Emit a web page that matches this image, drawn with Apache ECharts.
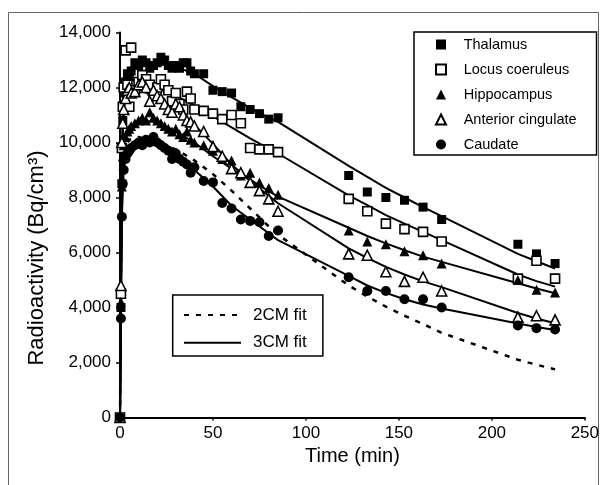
<!DOCTYPE html>
<html>
<head>
<meta charset="utf-8">
<script src="https://cdn.jsdelivr.net/npm/echarts@6/dist/echarts.min.js"></script>
<style>
  html, body { margin: 0; padding: 0; background: #fff; }
  #chart { width: 602px; height: 485px; }
</style>
</head>
<body>
<div id="chart"></div>
<script>
// Sampling times (min) of the measured frames
const times = [0, 0.5, 1, 1.5, 2, 3, 4, 5, 6, 8, 10, 12, 14, 16, 18, 20, 22, 24, 26, 28, 30, 32, 34, 36, 38, 40,
  45, 50, 55, 60, 65, 70, 75, 80, 85, 123, 133, 143, 153, 163, 173, 214, 224, 234];

// Measured radioactivity (Bq/cm3) per region
const thalamus = [0, 4000, 8500, 10800, 11800, 12200, 12500, 12400, 12600, 12900, 12800, 13000, 12900, 12700, 12800, 12900, 13100, 13000, 12800, 12700, 12800, 12700, 12900, 12900, 12600, 12500,
  12500, 11900, 11850, 11800, 11300, 11200, 11050, 10850, 10900, 8800, 8200, 8000, 7900, 7650, 7200, 6300, 5950, 5600];
const locusCoeruleus = [0, 4500, 9800, 11300, 12000, 13350, 12100, 11300, 13450, 11900, 12200, 12450, 12300, 12100, 11700, 12000, 12300, 12100, 11900, 11500, 11800, 11400, 11200, 11850, 11600, 11200,
  11150, 11050, 10850, 11000, 10700, 9800, 9750, 9750, 9650, 7950, 7500, 7050, 6850, 6750, 6400, 5050, 5700, 5050];
const hippocampus = [0, 4200, 8400, 9500, 9900, 10200, 10400, 10500, 10600, 10700, 10800, 10900, 10800, 11100, 10900, 10800, 10700, 10600, 10500, 10400, 10500, 10300, 10200, 10400, 10100, 10000,
  9900, 9700, 9400, 9350, 8800, 8900, 8550, 8350, 8100, 6800, 6400, 6300, 6050, 5900, 5600, 5000, 4650, 4550];
const anteriorCingulate = [0, 4800, 10000, 10700, 11200, 11600, 11900, 12000, 11800, 11850, 12100, 12200, 12000, 11500, 11900, 11700, 11600, 11400, 11200, 11100, 11400, 11300, 11000, 10800, 10750, 10600,
  10400, 9850, 9500, 9050, 8900, 8550, 8250, 7950, 7500, 5950, 5900, 5300, 4950, 5100, 4600, 3650, 3700, 3550];
const caudate = [0, 3600, 7300, 8500, 9000, 9400, 9600, 9700, 9800, 9900, 10000, 9900, 10100, 10000, 10200, 10000, 9900, 9800, 9700, 9400, 9600, 9400, 9300, 9200, 8900, 9100,
  8600, 8550, 7800, 7600, 7200, 7150, 7100, 6600, 6800, 5100, 4600, 4600, 4300, 4300, 4000, 3350, 3250, 3200];

// Model curves evaluated at these times and joined by straight segments
const fitTimes = [0, 0.5, 1, 2, 3, 5, 10, 20, 30, 40, 50, 60, 70, 80, 85, 123, 133, 143, 153, 163, 173, 214, 224, 234];

// Three-compartment model fits
const fitThalamus = [0, 4000, 8800, 11800, 12400, 12700, 12850, 12850, 12750, 12500, 12050, 11650, 11250, 10900, 10750,
  9150, 8750, 8350, 8000, 7650, 7320, 5950, 5680, 5420];
const fitLocusCoeruleus = [0, 4500, 9600, 11800, 12200, 12300, 12250, 12000, 11700, 11350, 10950, 10550, 10150, 9780, 9600,
  8080, 7720, 7360, 7050, 6750, 6450, 5200, 4960, 4760];
const fitHippocampus = [0, 4200, 8400, 9900, 10200, 10500, 10800, 10750, 10400, 10000, 9500, 9050, 8650, 8230, 8030,
  6900, 6600, 6330, 6080, 5850, 5660, 4880, 4690, 4520];
const fitAnteriorCingulate = [0, 4800, 9900, 11200, 11600, 11850, 11950, 11600, 11200, 10650, 9950, 9200, 8600, 8060, 7790,
  6150, 5800, 5480, 5200, 4950, 4740, 3800, 3600, 3430];
const fitCaudate = [0, 3600, 7300, 9000, 9400, 9700, 9950, 9950, 9550, 9000, 8400, 7700, 7200, 6700, 6450,
  5150, 4800, 4530, 4300, 4110, 3960, 3420, 3290, 3180];

// Two-compartment model fit (caudate)
const fit2Caudate = [0, 5000, 8200, 9500, 9900, 10100, 10200, 10000, 9750, 9350, 8850, 8250, 7600, 6950, 6650,
  4800, 4400, 4030, 3700, 3400, 3080, 2100, 1920, 1750];

// Axis ticks
const xTicks = { min: 0, max: 250, step: 50 };
const yTicks = { min: 0, max: 14000, step: 2000 };

const FONT = '"Liberation Sans", Arial, Helvetica, sans-serif';
const zip = (xs, ys) => xs.map((x, i) => [x, ys[i]]);

const regions = [
  { name: 'Thalamus', data: thalamus, fit: fitThalamus, symbol: 'rect', size: 9, open: false },
  { name: 'Locus coeruleus', data: locusCoeruleus, fit: fitLocusCoeruleus, symbol: 'rect', size: 9, open: true },
  { name: 'Hippocampus', data: hippocampus, fit: fitHippocampus, symbol: 'triangle', size: 10, open: false },
  { name: 'Anterior cingulate', data: anteriorCingulate, fit: fitAnteriorCingulate, symbol: 'triangle', size: 10, open: true },
  { name: 'Caudate', data: caudate, fit: fitCaudate, symbol: 'circle', size: 10, open: false }
];

const series = [];
regions.forEach(r => {
  series.push({
    name: '3CM fit',
    type: 'line',
    data: zip(fitTimes, r.fit),
    smooth: false,
    symbol: 'none',
    clip: false,
    z: 2,
    lineStyle: { color: '#000', width: 2 },
    itemStyle: { color: '#000' }
  });
});
series.push({
  name: '2CM fit',
  type: 'line',
  data: zip(fitTimes, fit2Caudate),
  smooth: false,
  symbol: 'none',
  clip: false,
  z: 2,
  lineStyle: { color: '#000', width: 2.5, type: [5, 7] },
  itemStyle: { color: '#000' }
});
regions.forEach(r => {
  series.push({
    name: r.name,
    type: 'scatter',
    data: zip(times, r.data),
    symbol: r.symbol,
    symbolSize: r.size,
    clip: false,
    z: 3,
    itemStyle: r.open
      ? { color: '#fff', borderColor: '#000', borderWidth: 1.6, opacity: 1 }
      : { color: '#000', borderColor: '#000', borderWidth: 0, opacity: 1 }
  });
});

const chart = echarts.init(document.getElementById('chart'), null, { renderer: 'canvas' });
chart.setOption({
  animation: false,
  backgroundColor: '#fff',
  textStyle: { fontFamily: FONT, color: '#000' },
  grid: { left: 120, right: 17, top: 32.5, bottom: 67.5, containLabel: false },
  graphic: [{
    type: 'rect',
    shape: { x: 8.5, y: 12.5, width: 590, height: 480 },
    style: { fill: 'none', stroke: '#666', lineWidth: 1 },
    silent: true,
    z: -10
  }],
  xAxis: {
    type: 'value',
    min: xTicks.min, max: xTicks.max, interval: xTicks.step,
    name: 'Time (min)',
    nameLocation: 'middle',
    nameGap: 29,
    nameTextStyle: { fontSize: 20, color: '#000', fontFamily: FONT },
    axisLine: { show: true, onZero: false, lineStyle: { color: '#000', width: 2 } },
    axisTick: { show: true, length: 3, lineStyle: { color: '#000', width: 1.5 } },
    axisLabel: { fontSize: 17, color: '#000', margin: 7, fontFamily: FONT },
    splitLine: { show: false }
  },
  yAxis: {
    type: 'value',
    min: yTicks.min, max: yTicks.max, interval: yTicks.step,
    name: 'Radioactivity (Bq/cm³)',
    nameLocation: 'middle',
    nameGap: 71,
    nameTextStyle: { fontSize: 22, color: '#000', fontFamily: FONT, padding: [0, 66, 0, 0] },
    axisLine: { show: true, onZero: false, lineStyle: { color: '#000', width: 2 } },
    axisTick: { show: true, length: 4, lineStyle: { color: '#000', width: 1.5 } },
    axisLabel: {
      fontSize: 17, color: '#000', margin: 9, fontFamily: FONT,
      formatter: v => v.toLocaleString('en-US')
    },
    splitLine: { show: false }
  },
  legend: [{
    orient: 'vertical',
    left: 414, top: 32,
    data: regions.map(r => r.name),
    selectedMode: false,
    itemWidth: 10, itemHeight: 10,
    itemGap: 10,
    padding: [5, 20, 3, 21],
    borderColor: '#000', borderWidth: 1.5,
    backgroundColor: '#fff',
    textStyle: { fontSize: 14.5, lineHeight: 14, color: '#000', fontFamily: FONT, padding: [0, 0, 0, 12.7] }
  }, {
    orient: 'vertical',
    left: 172.7, top: 295,
    data: [
      { name: '2CM fit', itemStyle: { opacity: 0 } },
      { name: '3CM fit', itemStyle: { opacity: 0 } }
    ],
    selectedMode: false,
    itemWidth: 57, itemHeight: 12,
    itemGap: 10.7,
    padding: [11.5, 16, 4.8, 10.3],
    borderColor: '#000', borderWidth: 1.5,
    backgroundColor: '#fff',
    textStyle: { fontSize: 17, lineHeight: 17, color: '#000', fontFamily: FONT, padding: [0, 0, 0, 7] }
  }],
  series: series
});
</script>
</body>
</html>
